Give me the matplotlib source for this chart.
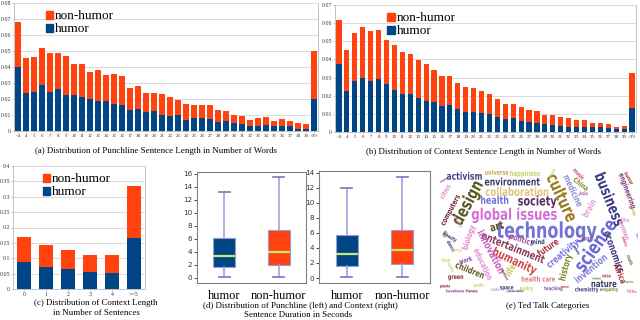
import matplotlib
matplotlib.use("Agg")
import matplotlib.pyplot as plt
from matplotlib.patches import Patch, PathPatch
from matplotlib.textpath import TextPath
from matplotlib.font_manager import FontProperties
from matplotlib.transforms import Affine2D

# ---- data -------------------------------------------------------------
WORD_LABELS = ["<4"] + [str(i) for i in range(4, 40)] + [">39"]

PUNCH_TOTAL = [0.068, 0.0455, 0.046, 0.052, 0.049, 0.049, 0.047, 0.042, 0.042, 0.037,
               0.038, 0.035, 0.0355, 0.0345, 0.027, 0.028, 0.0235, 0.024, 0.023, 0.0215,
               0.0195, 0.017, 0.0165, 0.016, 0.016, 0.013, 0.0125, 0.010, 0.0095, 0.007,
               0.008, 0.0085, 0.006, 0.0075, 0.0065, 0.005, 0.0045, 0.050]
PUNCH_HUMOR = [0.040, 0.024, 0.0245, 0.0285, 0.0245, 0.026, 0.0225, 0.0225, 0.021, 0.020,
               0.019, 0.0185, 0.017, 0.0165, 0.013, 0.0135, 0.012, 0.0125, 0.010, 0.0095,
               0.010, 0.007, 0.008, 0.008, 0.0075, 0.0055, 0.006, 0.005, 0.0045, 0.003,
               0.003, 0.0035, 0.003, 0.003, 0.003, 0.0015, 0.0015, 0.020]

CONTEXT_TOTAL = [0.0615, 0.045, 0.0545, 0.058, 0.0555, 0.056, 0.0505, 0.048, 0.044, 0.043,
                 0.0395, 0.0375, 0.034, 0.031, 0.031, 0.027, 0.025, 0.0245, 0.0225, 0.021,
                 0.018, 0.0155, 0.0155, 0.014, 0.012, 0.0115, 0.0095, 0.0095, 0.0085, 0.0075,
                 0.0065, 0.0065, 0.005, 0.005, 0.0045, 0.003, 0.0035, 0.0325]
CONTEXT_HUMOR = [0.0375, 0.0225, 0.028, 0.030, 0.028, 0.029, 0.0265, 0.023, 0.021, 0.021,
                 0.019, 0.017, 0.0165, 0.0145, 0.015, 0.0125, 0.011, 0.011, 0.0105, 0.010,
                 0.008, 0.007, 0.0075, 0.006, 0.0055, 0.005, 0.0045, 0.004, 0.0035, 0.003,
                 0.0025, 0.0025, 0.0025, 0.0025, 0.002, 0.0015, 0.0015, 0.0135]

SENT_LABELS = ["0", "1", "2", "3", "4", ">=5"]
SENT_TOTAL = [0.170, 0.142, 0.128, 0.110, 0.112, 0.335]
SENT_HUMOR = [0.088, 0.072, 0.064, 0.054, 0.051, 0.167]

BOX_LABELS = ["humor", "non-humor"]
# whislo, q1, median, q3, whishi
PUNCH_DUR = [(0.1, 1.6, 3.3, 6.2, 13.2), (0.1, 1.9, 3.95, 7.3, 15.6)]
CONTEXT_DUR = [(0.1, 1.6, 3.2, 5.75, 12.0), (0.1, 1.9, 3.75, 6.4, 13.4)]

WC_WORDS = ["technology", "global issues", "science", "business", "culture", "design",
            "entertainment", "humanity", "innovation", "environment", "collaboration",
            "activism", "society", "health", "economics", "creativity", "future", "politics",
            "health care", "nature", "invention", "children", "education", "art", "medicine",
            "engineering", "computers", "biology", "history", "Africa", "brain", "China",
            "happiness", "universe", "life", "mind", "work", "green", "women", "chemistry",
            "empathy", "space", "policy", "teaching", "Beauty", "dance", "self", "music",
            "humor", "plants", "Surveillance", "Planets", "conservation", "code", "food",
            "family", "math", "NASA", "cities", "energy", "physics", "poetry", "oceans",
            "peace", "film", "war", "Asia", "writing", "robots", "evolution", "youth",
            "memory", "disease", "TEDx", "God", "cancer"]
WC_COLORS = ["#7272d8", "#d46fd4", "#6a6ad8", "#3d3d85", "#9c7a1e", "#5c5c22",
             "#8a3a60", "#d24a4a", "#c65ec6", "#3c3c70", "#e2c47e",
             "#4a3f8c", "#5a2e62", "#7272d8", "#3d3d85", "#7878e0", "#a83040", "#a85aa8",
             "#e47888", "#3c3c70", "#8585d8", "#6a5a20", "#e58ad8", "#5c5c22", "#8f8fdc",
             "#7a3a7a", "#702a40", "#e38ad0", "#7a8a2a", "#a83030", "#e0a0d0", "#8a8a3a",
             "#c8d46a", "#c8a84a", "#c8c860", "#3c3c70", "#8050a0", "#8a2a2a", "#e090d0", "#3c3c85",
             "#8a8a3a", "#3c3c70", "#c8d46a", "#8050a0", "#3c3c70", "#3c3c70", "#8a8a3a", "#d04a4a",
             "#a83030", "#8a2a2a", "#7a3a7a", "#8a2a2a", "#3c3c70", "#e090d0", "#c8d46a",
             "#c8d46a", "#8a6a3a", "#a83030", "#e090d0", "#c8a84a", "#8a8a3a", "#d04a4a", "#7a3a7a",
             "#c8d46a", "#e0a0d0", "#8050a0", "#a85aa8", "#e2c47e", "#3c3c85", "#e38ad0", "#c8c860",
             "#8a3a60", "#5c5c22", "#e47888", "#7878e0", "#a83030"]

# ---- layout -----------------------------------------------------------
BLUE, ORANGE = "#004586", "#ff420e"
SERIF = "Liberation Serif"
W, H = 640, 320

# word-cloud placement: centre x, centre y, length (in 1/3 px), rotation
WC_LAYOUT = [(365, 210, 300, 0), (268, 162, 255, 0), (510, 255, 175, 55), (555, 118, 165, -68),
             (412, 112, 150, -65), (125, 128, 140, 62), (265, 262, 200, -22), (270, 302, 140, -25),
             (200, 275, 140, -62), (262, 65, 165, 0), (276, 95, 188, 0), (118, 48, 105, 0),
             (337, 122, 115, 0), (209, 120, 82, 0), (568, 275, 130, -70), (412, 280, 115, 40),
             (368, 262, 70, 35), (290, 238, 75, -18), (340, 357, 100, 0), (537, 371, 75, 0),
             (497, 325, 115, 40), (135, 330, 90, -22), (175, 312, 100, -65), (215, 198, 40, 15),
             (445, 92, 100, -65), (608, 92, 110, -70), (75, 150, 100, 62), (130, 232, 75, 72),
             (420, 322, 80, 75), (585, 340, 60, -68), (492, 145, 55, 60), (468, 72, 50, -38),
             (300, 40, 90, 0), (215, 37, 70, 0), (255, 330, 35, 60), (338, 245, 40, 0),
             (122, 300, 40, 15), (92, 350, 45, 0), (598, 210, 60, -70), (485, 388, 70, 0),
             (552, 388, 55, 0), (245, 382, 40, 0), (305, 385, 40, 0), (385, 385, 55, 0),
             (75, 230, 45, -30), (78, 258, 35, -60), (60, 222, 20, 60), (462, 42, 40, -45),
             (612, 55, 40, -60), (60, 378, 30, 0), (90, 393, 55, 0), (140, 393, 35, 0),
             (270, 393, 50, 0), (210, 388, 25, 0), (62, 300, 25, 0),
             (78, 322, 30, -60), (615, 300, 30, -70), (545, 348, 25, 0), (60, 95, 45, 60),
             (625, 150, 35, -70), (610, 365, 30, 0), (600, 245, 30, -70), (55, 60, 25, 30),
             (380, 40, 30, 60), (600, 180, 25, 0), (485, 235, 30, 0), (475, 100, 25, 0),
             (95, 270, 30, 0), (455, 270, 30, -60), (100, 185, 40, -60), (160, 375, 30, 0),
             (240, 345, 35, -60), (515, 355, 25, 0), (620, 395, 30, 0), (640, 230, 20, -70),
             (420, 380, 25, 0)]


def fp(x0, y0, x1, y1):
    """pixel box (top-left origin) -> figure fraction rect"""
    return [x0 / W, 1 - y1 / H, (x1 - x0) / W, (y1 - y0) / H]


def caption(x, y, s, size=6.4):
    fig.text(x / W, 1 - y / H, s, ha="center", va="center", family=SERIF, fontsize=size)


def stacked(ax, labels, total, humor, width, ymax, step, xfs, yfs, legend_x):
    x = range(len(labels))
    rest = [t - h for t, h in zip(total, humor)]
    ax.bar(x, humor, width=width, color=BLUE, zorder=2)
    ax.bar(x, rest, bottom=humor, width=width, color=ORANGE, zorder=2)
    ax.set_xlim(-0.5, len(labels) - 0.5)
    ax.set_ylim(0, ymax)
    n = int(round(ymax / step))
    ticks = [i * step for i in range(n + 1)]
    ax.set_yticks(ticks)
    ax.set_yticklabels(["0"] + [f"{t:g}" for t in ticks[1:]], family=SERIF, fontsize=yfs, color="#333333")
    ax.set_xticks(list(x))
    ax.set_xticklabels(labels, family=SERIF, fontsize=xfs, color="#333333")
    ax.yaxis.grid(True, color="#d4d4d4", lw=0.6, zorder=0)
    for s in ax.spines.values():
        s.set_color("#b8b8b8")
        s.set_linewidth(0.6)
    ax.spines["top"].set_visible(False)
    ax.tick_params(length=1.5, width=0.5, color="#b8b8b8", pad=0.8)
    handles = [Patch(color=ORANGE), Patch(color=BLUE)]
    ax.legend(handles, ["non-humor", "humor"], loc="upper left", bbox_to_anchor=(legend_x, 1.0),
              frameon=False, prop={"family": SERIF, "size": 9.5}, handlelength=0.55,
              handleheight=0.55, handletextpad=0.15, labelspacing=0.08, borderaxespad=0.15)


def boxes(ax, stats, ymax, ytop, ybot):
    bx = [dict(whislo=a, q1=b, med=c, q3=d, whishi=e, label=l)
          for (a, b, c, d, e), l in zip(stats, BOX_LABELS)]
    art = ax.bxp(bx, positions=[1, 2], widths=0.4, showfliers=False, patch_artist=True,
                 boxprops=dict(edgecolor="#9a9ad8", lw=0.8),
                 whiskerprops=dict(color="#9a9ad8", lw=1.1),
                 capprops=dict(color="#8080cc", lw=1.3),
                 medianprops=dict(color="#c8ea6a", lw=1.6))
    for patch, c in zip(art["boxes"], [BLUE, ORANGE]):
        patch.set_facecolor(c)
    ax.set_xlim(0.5, 2.5)
    ax.set_ylim(ybot, ytop)
    ax.set_yticks(range(0, ymax + 1, 2))
    ax.tick_params(axis="y", labelsize=5.2, length=2, width=0.5, pad=1.5, labelcolor="#333333")
    ax.tick_params(axis="x", length=0, pad=5)
    ax.set_xticklabels(BOX_LABELS, family=SERIF, fontsize=9)
    for s in ax.spines.values():
        s.set_color("#808080")
        s.set_linewidth(0.8)


fig = plt.figure(figsize=(6.4, 3.2), dpi=100)

# (a) punchline sentence length
ax_a = fig.add_axes(fp(14, 3, 318, 131))
stacked(ax_a, WORD_LABELS, PUNCH_TOTAL, PUNCH_HUMOR, 0.65, 0.08, 0.01, 3.6, 4.2, 0.08)
caption(156, 151, "(a) Distribution of Punchline Sentence Length in Number of Words")

# (b) context sentence length
ax_b = fig.add_axes(fp(335, 5, 636, 132))
stacked(ax_b, WORD_LABELS, CONTEXT_TOTAL, CONTEXT_HUMOR, 0.65, 0.07, 0.01, 3.6, 4.2, 0.15)
caption(483, 152, "(b) Distribution of Context Sentence Length in Number of Words")

# (c) context length in sentences
ax_c = fig.add_axes(fp(13, 166, 145, 289))
stacked(ax_c, SENT_LABELS, SENT_TOTAL, SENT_HUMOR, 0.6, 0.4, 0.05, 4.2, 4.2, 0.17)
caption(96, 303, "(c) Distribution of Context Length")
caption(96, 313, "in Number of Sentences")

# (d) sentence duration boxplots
ax_d1 = fig.add_axes(fp(197, 172, 306, 283))
boxes(ax_d1, PUNCH_DUR, 16, 16.3, -0.8)
ax_d2 = fig.add_axes(fp(319, 171, 430, 283))
boxes(ax_d2, CONTEXT_DUR, 14, 14.2, -0.66)
caption(300, 306, "(d) Distribution of Punchline (left) and Context (right)")
caption(298, 315, "Sentence Duration in Seconds")

# (e) word cloud of talk categories
ax_e = fig.add_axes(fp(440, 167, 638, 293))
ax_e.set_xlim(0, 198)
ax_e.set_ylim(0, 126)
ax_e.axis("off")
wc_font = FontProperties(family="DejaVu Sans", weight="bold")
for word, col, (zx, zy, zlen, rot) in zip(WC_WORDS, WC_COLORS, WC_LAYOUT):
    tp = TextPath((0, 0), word, size=1, prop=wc_font)
    ext = tp.get_extents()
    s = (zlen / 3) / ext.width
    tr = (Affine2D().translate(-(ext.x0 + ext.width / 2), -0.36)
          .scale(s, s * 1.35).rotate_deg(rot).translate(zx / 3 - 15, 133 - zy / 3))
    ax_e.add_patch(PathPatch(tr.transform_path(tp), fc=col, ec="none", lw=0))
caption(548, 306, "(e) Ted Talk Categories")

fig.savefig("out.png", dpi=100)
